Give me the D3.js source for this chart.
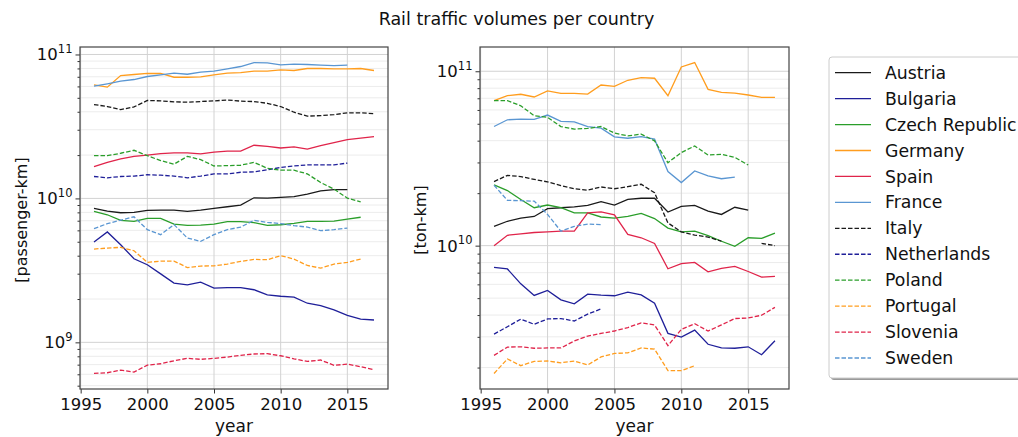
<!DOCTYPE html>
<html><head><meta charset="utf-8">
<script src="https://cdn.jsdelivr.net/npm/d3@7"></script>
<style>body{margin:0;background:#fff}svg{display:block}text{font-family:"DejaVu Sans",sans-serif;fill:#111}</style>
</head><body><svg id="c" width="1018" height="437"></svg>
<script>
const years = d3.range(1996, 2018);
const countries = ["Austria","Bulgaria","Czech Republic","Germany","Spain","France","Italy","Netherlands","Poland","Portugal","Slovenia","Sweden"];
const colors = ["#1a1a1a","#1f1f99","#2a9e2a","#ff9d1e","#e0244a","#5a96d2","#1a1a1a","#1f1f99","#2a9e2a","#ff9d1e","#e0244a","#5a96d2"];
const dashed = [false,false,false,false,false,false,true,true,true,true,true,true];
const N = null;
// passenger-km
const paxAustria = [8.52e9,8.16e9,7.95e9,7.99e9,8.25e9,8.29e9,8.29e9,8.12e9,8.29e9,8.52e9,8.75e9,8.99e9,1.01e10,1.005e10,1.016e10,1.03e10,1.07e10,1.13e10,1.15e10,1.15e10,N,N];
const paxBulgaria = [4.98e9,5.85e9,4.77e9,3.81e9,3.46e9,2.99e9,2.58e9,2.51e9,2.62e9,2.38e9,2.40e9,2.40e9,2.32e9,2.14e9,2.09e9,2.06e9,1.87e9,1.80e9,1.68e9,1.54e9,1.45e9,1.43e9];
const paxCzech = [8.12e9,7.70e9,7.03e9,6.92e9,7.26e9,7.26e9,6.63e9,6.49e9,6.52e9,6.63e9,6.89e9,6.89e9,6.78e9,6.49e9,6.56e9,6.70e9,6.92e9,6.92e9,6.95e9,7.18e9,7.40e9,N];
const paxGermany = [6.15e10,5.93e10,7.14e10,7.26e10,7.38e10,7.38e10,6.95e10,6.95e10,6.99e10,7.22e10,7.41e10,7.49e10,7.66e10,7.66e10,7.82e10,7.74e10,7.99e10,7.99e10,7.95e10,7.95e10,7.99e10,7.74e10];
const paxSpain = [1.66e10,1.78e10,1.88e10,1.96e10,2.00e10,2.05e10,2.07e10,2.07e10,2.04e10,2.10e10,2.13e10,2.13e10,2.34e10,2.30e10,2.24e10,2.28e10,2.20e10,2.33e10,2.44e10,2.56e10,2.62e10,2.69e10];
const paxFrance = [6.02e10,6.25e10,6.52e10,6.70e10,7.03e10,7.22e10,7.41e10,7.29e10,7.54e10,7.66e10,7.95e10,8.25e10,8.79e10,8.75e10,8.47e10,8.57e10,8.52e10,8.43e10,8.38e10,8.43e10,N,N];
const paxItaly = [4.49e10,4.35e10,4.14e10,4.32e10,4.79e10,4.76e10,4.69e10,4.66e10,4.71e10,4.76e10,4.83e10,4.74e10,4.71e10,4.58e10,4.35e10,3.97e10,3.73e10,3.76e10,3.82e10,3.93e10,3.93e10,3.88e10];
const paxNetherlands = [1.42e10,1.39e10,1.42e10,1.43e10,1.46e10,1.45e10,1.43e10,1.39e10,1.43e10,1.48e10,1.48e10,1.52e10,1.53e10,1.58e10,1.64e10,1.68e10,1.71e10,1.71e10,1.71e10,1.76e10,N,N];
const paxPoland = [1.98e10,1.98e10,2.06e10,2.16e10,1.98e10,1.83e10,1.73e10,1.96e10,1.86e10,1.68e10,1.69e10,1.70e10,1.78e10,1.62e10,1.57e10,1.57e10,1.48e10,1.29e10,1.16e10,1.005e10,9.48e9,N];
const paxPortugal = [4.45e9,4.52e9,4.57e9,4.33e9,3.59e9,3.67e9,3.67e9,3.31e9,3.39e9,3.40e9,3.50e9,3.65e9,3.77e9,3.75e9,4.00e9,3.79e9,3.42e9,3.28e9,3.50e9,3.59e9,3.79e9,N];
const paxSlovenia = [6.08e8,6.15e8,6.41e8,6.21e8,6.95e8,7.10e8,7.45e8,7.74e8,7.62e8,7.74e8,7.90e8,8.12e8,8.30e8,8.34e8,8.07e8,7.69e8,7.37e8,7.54e8,6.92e8,7.06e8,6.77e8,6.45e8];
const paxSweden = [6.17e9,6.68e9,7.06e9,7.45e9,6.07e9,5.60e9,6.58e9,5.31e9,5.03e9,5.60e9,6.07e9,6.32e9,7.05e9,6.82e9,6.68e9,6.47e9,6.32e9,5.97e9,6.07e9,6.22e9,N,N];
// ton-km
const frtAustria = [1.29e10,1.38e10,1.44e10,1.47e10,1.63e10,1.65e10,1.67e10,1.70e10,1.79e10,1.71e10,1.84e10,1.87e10,1.87e10,1.56e10,1.68e10,1.70e10,1.58e10,1.51e10,1.66e10,1.60e10,N,N];
const frtBulgaria = [7.50e9,7.35e9,6.04e9,5.18e9,5.54e9,4.89e9,4.64e9,5.27e9,5.20e9,5.16e9,5.41e9,5.22e9,4.68e9,3.14e9,2.99e9,3.28e9,2.72e9,2.59e9,2.58e9,2.63e9,2.37e9,2.85e9];
const frtCzech = [2.23e10,2.07e10,1.84e10,1.65e10,1.71e10,1.65e10,1.54e10,1.54e10,1.46e10,1.44e10,1.47e10,1.53e10,1.43e10,1.26e10,1.20e10,1.21e10,1.14e10,1.06e10,9.91e9,1.11e10,1.10e10,1.18e10];
const frtGermany = [6.78e10,7.24e10,7.38e10,7.12e10,7.71e10,7.47e10,7.47e10,7.40e10,8.34e10,8.20e10,8.88e10,9.20e10,9.12e10,7.24e10,1.059e11,1.122e11,7.87e10,7.57e10,7.50e10,7.31e10,7.08e10,7.08e10];
const frtSpain = [1.00e10,1.147e10,1.167e10,1.19e10,1.20e10,1.21e10,1.21e10,1.54e10,1.56e10,1.50e10,1.16e10,1.11e10,1.03e10,7.37e9,7.88e9,8.02e9,7.08e9,7.40e9,7.61e9,7.11e9,6.60e9,6.66e9];
const frtFrance = [4.82e10,5.27e10,5.32e10,5.30e10,5.61e10,5.16e10,5.13e10,4.82e10,4.72e10,4.21e10,4.13e10,4.22e10,4.08e10,2.66e10,2.30e10,2.68e10,2.51e10,2.42e10,2.47e10,N,N,N];
const frtItaly = [2.33e10,2.53e10,2.49e10,2.40e10,2.32e10,2.21e10,2.12e10,2.08e10,2.17e10,2.12e10,2.18e10,2.25e10,2.01e10,1.35e10,1.20e10,1.15e10,1.12e10,1.06e10,N,N,1.03e10,1.00e10];
const frtNetherlands = [3.11e9,3.43e9,3.79e9,3.54e9,3.80e9,3.82e9,3.70e9,4.05e9,4.34e9,N,N,N,N,N,N,N,N,N,N,N,N,N];
const frtPoland = [6.78e10,6.78e10,6.34e10,5.56e10,5.44e10,4.82e10,4.66e10,4.70e10,4.82e10,4.42e10,4.26e10,4.36e10,3.99e10,2.99e10,3.42e10,3.73e10,3.31e10,3.34e10,3.21e10,2.90e10,N,N];
const frtPortugal = [1.85e9,2.24e9,2.05e9,2.17e9,2.18e9,2.13e9,2.18e9,2.07e9,2.30e9,2.41e9,2.43e9,2.59e9,2.55e9,1.92e9,1.92e9,2.05e9,N,N,N,N,N,N];
const frtSlovenia = [2.35e9,2.62e9,2.63e9,2.58e9,2.59e9,2.59e9,2.84e9,3.03e9,3.14e9,3.24e9,3.39e9,3.61e9,3.51e9,2.67e9,3.31e9,3.57e9,3.24e9,3.51e9,3.82e9,3.85e9,3.99e9,4.43e9];
const frtSweden = [2.22e10,1.82e10,1.81e10,1.80e10,1.51e10,1.21e10,1.29e10,1.33e10,1.32e10,N,N,N,N,N,N,N,N,N,N,N,N,N];

const paxSeries = [paxAustria,paxBulgaria,paxCzech,paxGermany,paxSpain,paxFrance,paxItaly,paxNetherlands,paxPoland,paxPortugal,paxSlovenia,paxSweden];
const frtSeries = [frtAustria,frtBulgaria,frtCzech,frtGermany,frtSpain,frtFrance,frtItaly,frtNetherlands,frtPoland,frtPortugal,frtSlovenia,frtSweden];
const xTicks = [1995,2000,2005,2010,2015];
const title = "Rail traffic volumes per country";
const xLabel = "year";
const yLabels = ["[passenger-km]","[ton-km]"];

const svg = d3.select("#c");
const FONT = 16.5;
svg.append("text").attr("x",516.5).attr("y",25).attr("text-anchor","middle").style("font-size","17.5px").text(title);

const panels = [
  {x0:80,x1:388,y0:47,y1:389,series:paxSeries,ylab:yLabels[0],ylabX:21},
  {x0:480,x1:789,y0:47,y1:389,series:frtSeries,ylab:yLabels[1],ylabX:420}
];

panels.forEach(p=>{
  const g = svg.append("g");
  const x = d3.scaleLinear().domain([1996-1.05, 2017+1.05]).range([p.x0,p.x1]);
  const all = p.series.flat().filter(v=>v!=null);
  const lmin = Math.log10(d3.min(all)), lmax = Math.log10(d3.max(all));
  const m = (lmax-lmin)*0.05;
  const y = d3.scaleLog().domain([Math.pow(10,lmin-m), Math.pow(10,lmax+m)]).range([p.y1,p.y0]);
  const allTicks = [];
  for(let k=Math.floor(lmin-m); k<=Math.ceil(lmax+m); k++){
    for(let j=1;j<10;j++){ const v=j*Math.pow(10,k); if(v>=y.domain()[0] && v<=y.domain()[1]) allTicks.push(v); }
  }
  const major = allTicks.filter(v=>Math.abs(Math.log10(v)-Math.round(Math.log10(v)))<1e-9);
  const minor = allTicks.filter(v=>!major.includes(v));
  // grid
  g.selectAll(".gmin").data(minor).join("line").attr("x1",p.x0).attr("x2",p.x1)
    .attr("y1",d=>y(d)).attr("y2",d=>y(d)).attr("stroke","#ececec").attr("stroke-width",1);
  g.selectAll(".gmaj").data(major).join("line").attr("x1",p.x0).attr("x2",p.x1)
    .attr("y1",d=>y(d)).attr("y2",d=>y(d)).attr("stroke","#d2d2d2").attr("stroke-width",1);
  g.selectAll(".gx").data(xTicks).join("line").attr("y1",p.y0).attr("y2",p.y1)
    .attr("x1",d=>x(d)).attr("x2",d=>x(d)).attr("stroke","#d2d2d2").attr("stroke-width",1);
  // lines
  const line = d3.line().defined(d=>d.v!=null).x(d=>x(d.year)).y(d=>y(d.v));
  p.series.forEach((s,i)=>{
    const pts = years.map((yr,j)=>({year:yr,v:s[j]}));
    g.append("path").attr("d",line(pts)).attr("fill","none").attr("stroke",colors[i])
      .attr("stroke-width",1.3).attr("stroke-dasharray",dashed[i]?"4.5,2":null);
  });
  // axes
  const ax = d3.axisBottom(x).tickValues(xTicks).tickFormat(d3.format("d")).tickSize(4.5).tickPadding(4.5);
  const axg = svg.append("g").attr("transform",`translate(0,${p.y1})`).call(ax);
  axg.select(".domain").remove();
  axg.selectAll("text").style("font-size",FONT+"px").attr("font-family","DejaVu Sans").attr("fill","#111");
  axg.selectAll("line").attr("stroke","#333");
  const ayMaj = d3.axisLeft(y).tickValues(major).tickFormat(()=> "").tickSize(4.5);
  const ag = svg.append("g").attr("transform",`translate(${p.x0},0)`).call(ayMaj);
  ag.select(".domain").remove(); ag.selectAll("line").attr("stroke","#333");
  const ayMin = d3.axisLeft(y).tickValues(minor).tickFormat(()=> "").tickSize(2.5);
  const ag2 = svg.append("g").attr("transform",`translate(${p.x0},0)`).call(ayMin);
  ag2.select(".domain").remove(); ag2.selectAll("line").attr("stroke","#333");
  major.forEach(v=>{
    const t = svg.append("text").attr("x",p.x0-7.5).attr("y",y(v)+6).attr("text-anchor","end").style("font-size",FONT+"px");
    t.append("tspan").text("10");
    t.append("tspan").attr("dy",-7.5).style("font-size","11.5px").text(String(Math.round(Math.log10(v))));
  });
  // frame
  svg.append("rect").attr("x",p.x0).attr("y",p.y0).attr("width",p.x1-p.x0).attr("height",p.y1-p.y0)
    .attr("fill","none").attr("stroke","#444").attr("stroke-width",1.2);
  svg.append("text").attr("x",(p.x0+p.x1)/2).attr("y",432).attr("text-anchor","middle").style("font-size","17px").text(xLabel);
  svg.append("text").attr("transform",`translate(${p.ylabX},220) rotate(-90)`).attr("text-anchor","middle")
    .attr("dy","0.35em").style("font-size","16px").text(p.ylab);
});

// legend
const lg = svg.append("g");
lg.append("rect").attr("x",831).attr("y",59).attr("width",220).attr("height",321).attr("rx",3).attr("fill","#9a9a9a");
lg.append("rect").attr("x",829).attr("y",57).attr("width",220).attr("height",321).attr("rx",3).attr("fill","#fff").attr("stroke","#cccccc");
const ly = d3.scaleLinear().domain([0,11]).range([72.7,358]);
countries.forEach((c,i)=>{
  lg.append("line").attr("x1",835).attr("x2",871).attr("y1",ly(i)).attr("y2",ly(i)).attr("stroke",colors[i])
    .attr("stroke-width",1.3).attr("stroke-dasharray",dashed[i]?"4.5,2":null);
  lg.append("text").attr("x",885).attr("y",ly(i)).attr("dy","0.35em").style("font-size","17.3px").text(c);
});
</script></body></html>
